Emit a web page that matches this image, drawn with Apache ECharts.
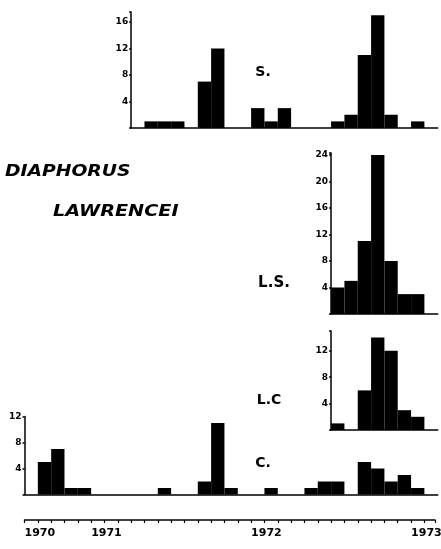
<!DOCTYPE html>
<html><head><meta charset="utf-8">
<script src="https://cdn.jsdelivr.net/npm/echarts@6/dist/echarts.min.js"></script>
<style>html,body{margin:0;padding:0;background:#fff}#c{width:441px;height:549px}</style>
</head><body><div id="c"></div>
<script>
// Months from Aug 1970 (index 0) to Feb 1973 (index 30)
const months = ['1970-08','1970-09','1970-10','1970-11','1970-12',
  '1971-01','1971-02','1971-03','1971-04','1971-05','1971-06','1971-07','1971-08','1971-09','1971-10','1971-11','1971-12',
  '1972-01','1972-02','1972-03','1972-04','1972-05','1972-06','1972-07','1972-08','1972-09','1972-10','1972-11','1972-12',
  '1973-01','1973-02'];
const yearLabels = ['1970','1971','1972','1973'];
const yearLabelMonth = [0, 5, 17, 29];

const panelNames = ['S.', 'L.S.', 'L.C', 'C.'];
const sStart = 8;
const sValues = [0,1,1,1,0,7,12,0,0,3,1,3,0,0,0,1,2,11,17,2,0,1,0];
const lsStart = 23;
const lsValues = [4,5,11,24,8,3,3,0];
const lcStart = 23;
const lcValues = [1,0,6,14,12,3,2,0];
const cStart = 0;
const cValues = [0,5,7,1,1,0,0,0,0,0,1,0,0,2,11,1,0,0,1,0,0,1,2,2,0,5,4,2,3,1,0];
const yTickStep = 4;

// layout
const X0 = 24.5, MW = 13.33;
const layout = [
  {start: sStart, values: sValues, top: 12, base: 128, max: 17.5, label: [263, 72, 14]},
  {start: lsStart, values: lsValues, top: 153, base: 314, max: 24.3, label: [274, 283, 15]},
  {start: lcStart, values: lcValues, top: 331, base: 430, max: 15, label: [269, 400, 14]},
  {start: cStart, values: cValues, top: 416.5, base: 494.5, max: 12, label: [263, 463, 14]}
];

const FONT = 'DejaVu Sans';
const grids = [], xAxes = [], yAxes = [], series = [], graphics = [];
layout.forEach((p, i) => {
  grids.push({left: X0 + p.start * MW, width: p.values.length * MW, top: p.top, height: p.base - p.top, outerBoundsMode: 'none', containLabel: false});
  xAxes.push({gridIndex: i, type: 'category', data: months.slice(p.start, p.start + p.values.length), boundaryGap: true,
    axisLine: {show: true, onZero: false, lineStyle: {color: '#000', width: 1.5}},
    axisTick: {show: false}, axisLabel: {show: false}, splitLine: {show: false}});
  yAxes.push({gridIndex: i, type: 'value', min: 0, max: p.max, interval: yTickStep,
    axisLine: {show: true, lineStyle: {color: '#000', width: 1.5}},
    axisTick: {show: true, length: 2, lineStyle: {color: '#000', width: 1.5}},
    splitLine: {show: false},
    axisLabel: {margin: 3, fontSize: 9, fontWeight: 'bold', fontFamily: FONT, color: '#000',
      showMaxLabel: true, hideOverlap: false,
      formatter: v => (v > 0 && v % yTickStep === 0) ? String(v) : ''}});
  series.push({type: 'bar', xAxisIndex: i, yAxisIndex: i, data: p.values, barCategoryGap: '0%', barGap: '0%',
    itemStyle: {color: '#000'}, silent: true});
  graphics.push({type: 'text', x: p.label[0], y: p.label[1], style: {text: panelNames[i], fill: '#000',
    font: 'bold ' + p.label[2] + 'px "' + FONT + '"', align: 'center', verticalAlign: 'middle'}});
});

// time axis
const TI = layout.length;
grids.push({left: X0, width: 30.8 * MW, top: 510, height: 10, outerBoundsMode: 'none', containLabel: false});
xAxes.push({gridIndex: TI, type: 'value', min: 0, max: 30.8, interval: 1,
  axisLine: {show: true, onZero: false, lineStyle: {color: '#000', width: 1.5}},
  axisTick: {show: true, length: 3, lineStyle: {color: '#000', width: 1.2}},
  splitLine: {show: false},
  axisLabel: {margin: 8, fontSize: 11, fontWeight: 'bold', fontFamily: FONT, color: '#000', align: 'left',
    showMaxLabel: true, showMinLabel: true, hideOverlap: false,
    formatter: v => { const k = yearLabelMonth.indexOf(v); return k >= 0 ? yearLabels[k] : ''; }}});
yAxes.push({gridIndex: TI, type: 'value', show: false, min: 0, max: 1});
series.push({type: 'line', xAxisIndex: TI, yAxisIndex: TI, data: [], silent: true});

// species title
graphics.push({type: 'text', x: 5, y: 172, scaleX: 1.17, style: {text: 'DIAPHORUS', fill: '#000',
  font: 'italic bold 16px "' + FONT + '"', align: 'left', verticalAlign: 'middle'}});
graphics.push({type: 'text', x: 53, y: 212, scaleX: 1.2, style: {text: 'LAWRENCEI', fill: '#000',
  font: 'italic bold 16px "' + FONT + '"', align: 'left', verticalAlign: 'middle'}});

const chart = echarts.init(document.getElementById('c'), null, {renderer: 'canvas'});
chart.setOption({
  animation: false,
  backgroundColor: '#fff',
  grid: grids, xAxis: xAxes, yAxis: yAxes, series: series, graphic: graphics
});
</script></body></html>
